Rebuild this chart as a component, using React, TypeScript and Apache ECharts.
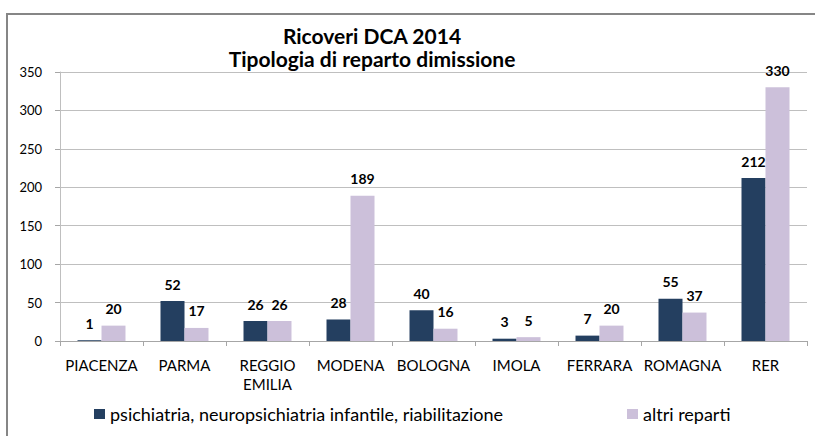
import React, { useEffect, useRef } from "react";
import * as echarts from "echarts";

const categories = ["PIACENZA", "PARMA", "REGGIO\nEMILIA", "MODENA", "BOLOGNA", "IMOLA", "FERRARA", "ROMAGNA", "RER"];
const psichiatria = [1, 52, 26, 28, 40, 3, 7, 55, 212];
const altri = [20, 17, 26, 189, 16, 5, 20, 37, 330];
const seriesNames = ["psichiatria, neuropsichiatria infantile, riabilitazione", "altri reparti"];
const titleLines = ["Ricoveri DCA 2014", "Tipologia di reparto dimissione"];

const FONT = "Lato, 'Liberation Sans', sans-serif";

export default function App() {
  const ref = useRef<HTMLDivElement>(null);
  useEffect(() => {
    const chart = echarts.init(ref.current!, null, { renderer: "svg" });
    const label = {
      show: true,
      position: "top" as const,
      distance: 10,
      color: "#000",
      fontSize: 14,
      fontWeight: "bold" as const,
      fontFamily: FONT,
    };
    const legendText = { fontSize: 18, color: "#000", fontFamily: FONT };
    chart.setOption({
      animation: false,
      backgroundColor: "#fff",
      textStyle: { fontFamily: FONT },
      title: {
        text: titleLines.join("\n"),
        left: 367,
        top: 19,
        textAlign: "center",
        textStyle: { fontSize: 21, fontWeight: "bold", color: "#000", lineHeight: 23, fontFamily: FONT },
      },
      graphic: [
        {
          type: "rect",
          shape: { x: 7, y: 14, width: 830, height: 450 },
          style: { fill: "none", stroke: "#868686", lineWidth: 2 },
          silent: true,
        },
      ],
      legend: [
        {
          left: 89,
          top: 400,
          itemWidth: 11,
          itemHeight: 10,
          icon: "rect",
          textStyle: legendText,
          data: [seriesNames[0]],
        },
        {
          left: 622,
          top: 400,
          itemWidth: 11,
          itemHeight: 10,
          icon: "rect",
          textStyle: legendText,
          data: [seriesNames[1]],
        },
      ],
      grid: { left: 60, right: 8, top: 72, bottom: 95 },
      xAxis: {
        type: "category",
        data: categories,
        axisLine: { lineStyle: { color: "#a6a6a6" } },
        axisTick: { show: true, length: 5, lineStyle: { color: "#a6a6a6" } },
        axisLabel: { color: "#000", fontSize: 15, margin: 14, lineHeight: 19, fontFamily: FONT, interval: 0 },
      },
      yAxis: {
        type: "value",
        min: 0,
        max: 350,
        interval: 50,
        axisLine: { show: true, lineStyle: { color: "#bfbfbf" } },
        axisTick: { show: true, length: 5, lineStyle: { color: "#a6a6a6" } },
        splitLine: { lineStyle: { color: "#bfbfbf" } },
        axisLabel: { color: "#000", fontSize: 13, margin: 18, fontFamily: FONT },
      },
      series: [
        {
          name: seriesNames[0],
          type: "bar",
          data: psichiatria,
          barWidth: 24,
          barGap: "0%",
          itemStyle: { color: "#243f60" },
          label,
        },
        {
          name: seriesNames[1],
          type: "bar",
          data: altri,
          barWidth: 24,
          itemStyle: { color: "#ccc0da" },
          label,
        },
      ],
    });
    return () => chart.dispose();
  }, []);
  return <div ref={ref} style={{ width: 815, height: 436, position: "absolute", left: 0, top: 0 }} />;
}
